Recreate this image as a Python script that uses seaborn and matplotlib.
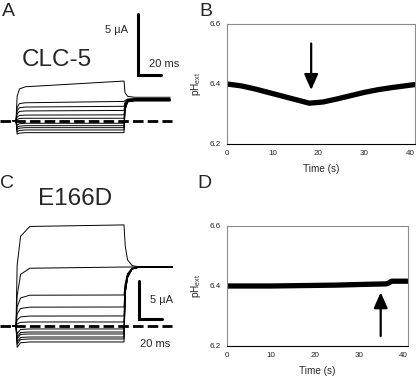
import pandas as pd
import matplotlib.pyplot as plt
import seaborn as sns

# panel B / D : external pH over time
time_b = [0, 3, 6, 9, 12, 15, 18, 21, 24, 27, 30, 33, 36, 39, 41]
ph_b = [6.400, 6.394, 6.384, 6.372, 6.360, 6.348, 6.336, 6.340, 6.350, 6.361,
        6.372, 6.381, 6.388, 6.394, 6.398]
time_d = [0, 5, 10, 15, 20, 25, 30, 33, 36, 36.6, 37.4, 39, 41]
ph_d = [6.400, 6.400, 6.400, 6.401, 6.402, 6.403, 6.405, 6.406, 6.407, 6.409,
        6.416, 6.416, 6.416]
arrow_b = (18.4, 6.535, 6.38)   # x, tail, tip
arrow_d = (34.9, 6.233, 6.379)
ph_ticks = [6.2, 6.4, 6.6]
time_ticks = [0, 10, 20, 30, 40]

# panel A : CLC-5 current traces (uA) at fixed time nodes (ms)
clc5_t = [-3, 0, 1, 3, 8, 93.9, 94.8, 97, 103, 134]
clc5_rise = [2.0, 1.1, 0.8, 0.55, 0.3, 0.1, -0.35, -0.55, -0.7, -0.9, -1.1]
clc5_mid = [2.6, 1.4, 1.07, 0.76, 0.43, 0.18, -0.25, -0.45, -0.61, -0.8, -1.02]
clc5_start = [2.78, 1.47, 1.12, 0.8, 0.46, 0.2, -0.21, -0.41, -0.57, -0.76, -0.98]
clc5_end = [3.25, 1.58, 1.18, 0.84, 0.48, 0.2, -0.21, -0.41, -0.57, -0.76, -0.98]
clc5_tail_a = [2.3, 1.65, 1.5, 1.4, 1.3, 1.2, 1.1, 1.0, 0.95, 0.9, 0.85]
clc5_tail_b = [2.0, 1.78, 1.72, 1.68, 1.65, 1.63, 1.6, 1.58, 1.56, 1.55, 1.54]
clc5_tail = [1.92, 1.82, 1.78, 1.75, 1.72, 1.7, 1.68, 1.66, 1.65, 1.64, 1.62]

# panel C : E166D current traces
e166d_t = [-3, 0, 1, 4, 12, 93.9, 95, 97, 101, 106, 136]
e166d_rise = [8.0, 4.0, 2.5, 1.6, 0.8, 0.3, -1.0, -1.4, -1.7, -2.1, -2.4, -2.8]
e166d_mid = [11.8, 6.8, 3.7, 2.3, 1.2, 0.48, -0.45, -0.85, -1.1, -1.5, -1.77, -2.2]
e166d_start = [13.1, 7.6, 4.05, 2.48, 1.31, 0.53, -0.39, -0.79, -1.05, -1.45, -1.71, -2.1]
e166d_end = [13.3, 7.76, 4.08, 2.5, 1.32, 0.53, -0.39, -0.79, -1.05, -1.45, -1.71, -2.1]
e166d_tail_a = [10.5, 7.76, 5.6, 5.4, 5.2, 5.0, 4.8, 4.7, 4.6, 4.5, 4.4, 4.3]
e166d_tail_b = [8.7, 7.76, 6.9, 6.8, 6.7, 6.65, 6.6, 6.55, 6.5, 6.45, 6.4, 6.35]
e166d_tail_c = [7.95, 7.76, 7.6, 7.58, 7.56, 7.55, 7.54, 7.53, 7.52, 7.51, 7.5, 7.5]
e166d_tail = [7.8, 7.76, 7.74, 7.73, 7.72, 7.72, 7.71, 7.71, 7.7, 7.7, 7.7, 7.7]

W, H = 416, 379


def px_axes(fig, x0, y0, x1, y1):
    return fig.add_axes([x0 / W, 1 - y1 / H, (x1 - x0) / W, (y1 - y0) / H])


def traces_frame(times, *cols):
    rows = []
    for i in range(len(cols[0])):
        vals = [0, 0] + [c[i] for c in cols]
        vals = vals + [cols[-1][i]] * (len(times) - len(vals))
        for t, v in zip(times, vals):
            rows.append({'trace': i, 't': t, 'I': v})
    return pd.DataFrame(rows)


def ph_panel(ax, t, ph, arrow):
    df = pd.DataFrame({'t': t, 'ph': ph})
    sns.lineplot(data=df, x='t', y='ph', ax=ax, color='black', lw=3.8,
                 solid_capstyle='round')
    ax.annotate('', xy=(arrow[0], arrow[2]), xytext=(arrow[0], arrow[1]),
                arrowprops=dict(arrowstyle='-|>,head_width=0.42,head_length=0.95',
                                lw=1.6, color='black', shrinkA=0, shrinkB=0))
    ax.set_xlim(0, 41.1)
    ax.set_ylim(6.2, 6.6)
    ax.set_xticks(time_ticks)
    ax.set_yticks(ph_ticks)
    ax.set_yticklabels([f'{v:.1f}' for v in ph_ticks])
    ax.tick_params(labelsize=5.8, length=2.5, width=0.7, pad=2, colors='#222222',
                   direction='out')
    ax.set_xlabel('Time (s)', fontsize=7.2, labelpad=5)
    ax.set_ylabel(r'pH$_{\mathregular{ext}}$', fontsize=7.2)
    for s in ['left', 'top', 'right']:
        ax.spines[s].set_color('#8c8c8c')
        ax.spines[s].set_linewidth(0.8)
    ax.spines['bottom'].set_color('black')
    ax.spines['bottom'].set_linewidth(0.8)


sns.set_style('white')
plt.rcParams['font.family'] = ['Liberation Sans', 'DejaVu Sans']
plt.rcParams['mathtext.fontset'] = 'custom'
plt.rcParams['mathtext.rm'] = 'Liberation Sans'

fig = plt.figure(figsize=(W / 100, H / 100), dpi=100)

# ---- A : CLC-5 traces
ax_a = px_axes(fig, 0, 0, 190, 150)
df_a = traces_frame(clc5_t, clc5_rise, clc5_mid, clc5_start, clc5_end,
                    clc5_tail_a, clc5_tail_b, clc5_tail)
sns.lineplot(data=df_a, x='t', y='I', units='trace', estimator=None, sort=False,
             color='black', lw=0.7, ax=ax_a)
ax_a.plot([-13.9, 135.6], [0, 0], color='black', lw=2.0, ls=(0, (3.8, 1.5)))
ax_a.plot([106.1, 106.1, 126.1], [8.75, 3.75, 3.75], color='black', lw=2.2,
          solid_joinstyle='miter')
ax_a.text(97.4, 7.43, '5 µA', fontsize=8, ha='right', va='center')
ax_a.text(115.6, 4.65, '20 ms', fontsize=8, ha='left', va='center')
ax_a.set_xlim(-16 / 1.15, 174 / 1.15)
ax_a.set_ylim(-(150 - 120.7) / 12.2, 120.7 / 12.2)
ax_a.axis('off')

# ---- C : E166D traces
ax_c = px_axes(fig, 0, 210, 190, 360)
df_c = traces_frame(e166d_t, e166d_rise, e166d_mid, e166d_start, e166d_end,
                    e166d_tail_a, e166d_tail_b, e166d_tail_c, e166d_tail)
sns.lineplot(data=df_c, x='t', y='I', units='trace', estimator=None, sort=False,
             color='black', lw=0.7, ax=ax_c)
ax_c.plot([-13.9, 135.6], [0, 0], color='black', lw=2.0, ls=(0, (3.8, 1.5)))
ax_c.plot([107, 107, 127], [5.92, 0.92, 0.92], color='black', lw=2.2,
          solid_joinstyle='miter')
ax_c.text(116.5, 3.42, '5 µA', fontsize=8, ha='left', va='center')
ax_c.text(107.8, -2.37, '20 ms', fontsize=8, ha='left', va='center')
ax_c.set_xlim(-16 / 1.15, 174 / 1.15)
ax_c.set_ylim(-(360 - 326) / 7.6, (326 - 210) / 7.6)
ax_c.axis('off')

# ---- B / D : pH
ax_b = px_axes(fig, 227, 24, 415, 144)
ph_panel(ax_b, time_b, ph_b, arrow_b)
ax_b.yaxis.set_label_coords(-0.125, 0.5)

ax_d = px_axes(fig, 227, 226, 408, 346)
ph_panel(ax_d, time_d, ph_d, arrow_d)
ax_d.yaxis.set_label_coords(-0.13, 0.5)

# labels
for lab, x, y in [('A', 8, 11), ('B', 206, 11), ('C', 7, 184), ('D', 204, 184)]:
    fig.text(x / W, 1 - y / H, lab, fontsize=14, ha='center', va='center')
fig.text(56.7 / W, 1 - 60 / H, 'CLC-5', fontsize=17.5, ha='center', va='center')
fig.text(75 / W, 1 - 199 / H, 'E166D', fontsize=17.5, ha='center', va='center')

fig.savefig('out.png', dpi=100)
